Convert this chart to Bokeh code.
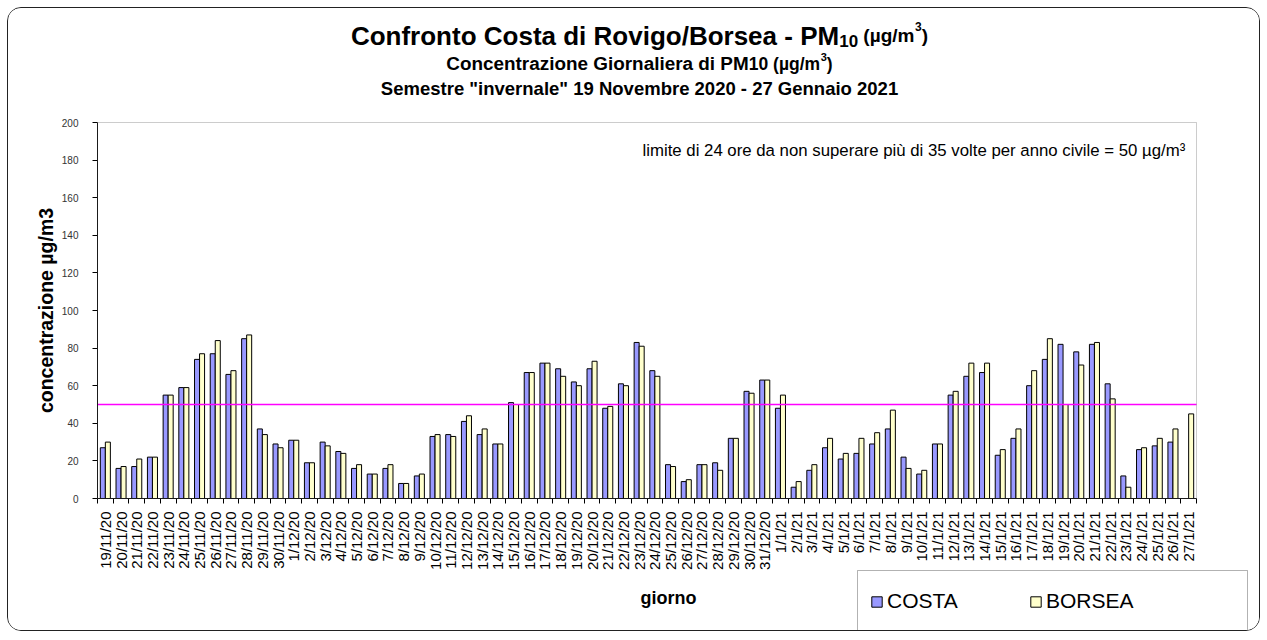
import math
import numpy as np
import pandas as pd
from bokeh.plotting import figure
from bokeh.models import (ColumnDataSource, Range1d, FixedTicker, Label, BoxAnnotation,
                          Legend, LegendItem)
from bokeh.transform import dodge
from bokeh.embed import file_html
from bokeh.resources import INLINE

# ---------------- data ----------------
dates = [f"{d.day}/{d.month}/{d.strftime('%y')}"
         for d in pd.date_range("2020-11-19", "2021-01-27", freq="D")]

costa = [27, 16, 17, 22, 55, 59, 74, 77, 66, 85, 37, 29,
         31, 19, 30, 25, 16, 13, 16, 8, 12, 33, 34, 41, 34, 29, 51, 67, 72, 69, 62, 69,
         48, 61, 83, 68, 18, 9, 18, 19, 32, 57, 63,
         48, 6, 15, 27, 21, 24, 29, 37, 22, 13, 29, 55, 65, 67, 23, 32, 60, 74, 82, 78,
         82, 61, 12, 26, 28, 30, float("nan")]

borsea = [30, 17, 21, 22, 55, 59, 77, 84, 68, 87, 34, 27,
          31, 19, 28, 24, 18, 13, 18, 8, 13, 34, 33, 44, 37, 29, 50, 67, 72, 65, 60, 73,
          49, 60, 81, 65, 17, 10, 18, 15, 32, 56, 63,
          55, 9, 18, 32, 24, 32, 35, 47, 16, 15, 29, 57, 72, 72, 26, 37, 68, 85, 50, 71,
          83, 53, 6, 27, 32, 37, 45]

y_ticks = [0, 20, 40, 60, 80, 100, 120, 140, 160, 180, 200]
limit_value = 50
series_names = ["COSTA", "BORSEA"]
series_colors = ["#9999FF", "#FFFFCC"]

# ---------------- layout helpers ----------------
FONT = "Liberation Sans"
CX, CY = 8, 8                            # canvas origin in page px (after border)
W, H = 1253, 624
FL, FR, FT, FB = 97, 1196, 122, 498      # plot-area edges in page px
N = len(dates)
YMAX = y_ticks[-1]


def dx(px):
    return (px - FL) * N / (FR - FL)


def dy(py):
    return (FB - py) * YMAX / (FB - FT)


REG = {' ': 278, '(': 333, ')': 333, '/': 278, '-': 333, '=': 584, 'µ': 556, '³': 333,
       'a': 556, 'b': 556, 'c': 500, 'd': 556, 'e': 556, 'f': 278, 'g': 556, 'h': 556,
       'i': 222, 'l': 222, 'm': 833, 'n': 556, 'o': 556, 'p': 556, 'r': 333, 's': 500,
       't': 278, 'u': 556, 'v': 500, 'z': 500, 'ù': 556}
BOLD = {' ': 278, '(': 333, ')': 333, '/': 278, '-': 333, '"': 474, 'µ': 611,
        'a': 556, 'b': 611, 'c': 556, 'd': 611, 'e': 556, 'f': 333, 'g': 611, 'i': 278,
        'l': 278, 'm': 889, 'n': 611, 'o': 611, 'r': 389, 's': 556, 't': 333, 'v': 556,
        'z': 500, 'C': 722, 'G': 778, 'M': 833, 'N': 722, 'P': 667, 'R': 722, 'B': 722,
        'S': 667}


def tw(s, size, bold=True):
    tab = BOLD if bold else REG
    return sum(tab.get(ch, 556) for ch in s) * size / 1000.0


# ---------------- figure (frame = whole canvas, axes at fixed locations) ----------------
p = figure(width=W, height=H, output_backend="svg", toolbar_location=None,
           x_range=Range1d(dx(CX), dx(CX + W)), y_range=Range1d(dy(CY + H), dy(CY)),
           min_border=0, min_border_left=0, min_border_right=0,
           min_border_top=0, min_border_bottom=0)
p.styles = {"border": "1px solid #222222", "border-radius": "14px", "overflow": "hidden",
            "margin-left": "7px", "margin-top": "7px"}
p.border_fill_color = "white"
p.background_fill_color = "white"
p.outline_line_color = None
p.xgrid.visible = False
p.ygrid.visible = False

# plot-area border
p.add_layout(BoxAnnotation(left=0, right=N, bottom=0, top=YMAX, fill_alpha=0,
                           line_color="#555555", line_width=1))

src = ColumnDataSource(dict(pos=np.arange(N) + 0.5, costa=costa, borsea=borsea))
bw = 0.32
r_costa = p.vbar(x=dodge("pos", -bw / 2, range=p.x_range), top="costa", width=bw,
                 source=src, fill_color=series_colors[0], line_color="black", line_width=1)
r_borsea = p.vbar(x=dodge("pos", bw / 2, range=p.x_range), top="borsea", width=bw,
                  source=src, fill_color=series_colors[1], line_color="black", line_width=1)

# limit line across the plot area
p.line(x=[0, N], y=[limit_value, limit_value], line_color="#FF00FF", line_width=1.5)

# x axis
centers = [i + 0.5 for i in range(N)]
xa = p.xaxis[0]
xa.fixed_location = 0
xa.bounds = (0, N)
xa.ticker = FixedTicker(ticks=centers, minor_ticks=list(range(N + 1)))
xa.major_label_overrides = {c: d for c, d in zip(centers, dates)}
xa.major_label_orientation = math.pi / 2
xa.major_tick_out = 0
xa.major_tick_in = 0
xa.minor_tick_out = 5
xa.minor_tick_in = 0
xa.minor_tick_line_color = "black"
xa.axis_line_color = "black"
xa.major_label_standoff = 8
xa.major_label_text_font = FONT
xa.major_label_text_font_size = "15px"
xa.major_label_text_color = "black"

# y axis
ya = p.yaxis[0]
ya.fixed_location = 0
ya.bounds = (0, YMAX)
ya.ticker = FixedTicker(ticks=y_ticks)
ya.major_tick_out = 5
ya.major_tick_in = 0
ya.minor_tick_line_color = None
ya.axis_line_color = "black"
ya.major_label_standoff = 14
ya.major_label_text_font = FONT
ya.major_label_text_font_size = "10px"
ya.major_label_text_color = "#333333"
ya.axis_label = "concentrazione µg/m3"
ya.axis_label_text_font = FONT
ya.axis_label_text_font_size = "19.5px"
ya.axis_label_text_font_style = "bold"
ya.axis_label_text_color = "black"
ya.axis_label_standoff = 2


def add_text(text, px, py, size, bold=True, align="left"):
    p.add_layout(Label(x=dx(px), y=dy(py), text=text, text_font=FONT,
                       text_font_size=f"{size}px",
                       text_font_style="bold" if bold else "normal",
                       text_color="black", text_align=align,
                       text_baseline="alphabetic"))


def draw_pieces(pieces, center_px, line_py):
    total = sum(tw(t, s) for t, s, _ in pieces)
    x = center_px - total / 2
    for t, s, off in pieces:
        lead = len(t) - len(t.lstrip(" "))
        x += tw(" " * lead, s)
        t2 = t.lstrip(" ")
        add_text(t2, x, line_py - off, s)
        x += tw(t2, s)


TC = 639
draw_pieces([("Confronto Costa di Rovigo/Borsea - PM", 26, 0), ("10", 17, -5),
             (" (µg/m", 19, 0), ("3", 12, 9), (")", 19, 0)], TC, 35)
draw_pieces([("Concentrazione Giornaliera di PM", 18.9, 0), ("10 (µg/m", 17.5, 0),
             ("3", 11, 7), (")", 17.5, 0)], TC, 63)
draw_pieces([('Semestre "invernale" 19 Novembre 2020 - 27 Gennaio 2021', 18.5, 0)], TC, 88)

add_text("limite di 24 ore da non superare più di 35 volte per anno civile = 50 µg/m³",
         642, 150, 16.8, bold=False)
add_text("giorno", 668, 597, 18, align="center")

# legend: box drawn as an annotation, borderless legend (no padding) placed inside it
p.add_layout(BoxAnnotation(left=dx(857), right=dx(1247), top=dy(570), bottom=dy(631.5),
                           fill_color="white", fill_alpha=1.0,
                           line_color="black", line_width=1))
LEG_H = 36
legend = Legend(items=[LegendItem(label=series_names[0], renderers=[r_costa]),
                       LegendItem(label=series_names[1], renderers=[r_borsea])],
                location=(870 - CX, (CY + H) - (601 + LEG_H / 2)),
                orientation="horizontal",
                padding=0, margin=0, spacing=70, label_width=72, label_height=LEG_H,
                glyph_width=13, glyph_height=13, label_standoff=4,
                label_text_font=FONT, label_text_font_size="21px",
                label_text_color="black",
                border_line_color=None, background_fill_alpha=0.0)
p.add_layout(legend)

open("out.html", "w").write(file_html(p, INLINE))
